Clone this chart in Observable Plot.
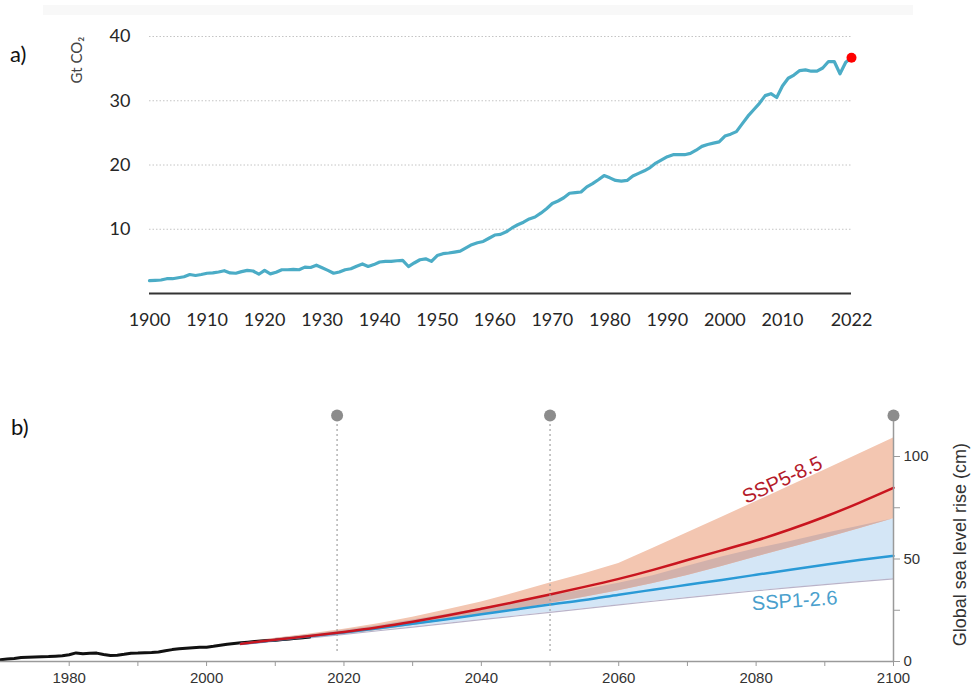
<!DOCTYPE html>
<html><head><meta charset="utf-8">
<script src="https://cdn.jsdelivr.net/npm/d3@7"></script>
<script src="https://cdn.jsdelivr.net/npm/@observablehq/plot@0.6"></script>
<style>
html,body{margin:0;padding:0;background:#fff;}
#wrap{position:relative;width:971px;height:690px;overflow:hidden;}
.abs{position:absolute;}
.panel{font-family:Lato, "Open Sans", sans-serif;font-size:22px;color:#111;}
</style></head><body>
<div id="wrap">
  <div class="abs" style="left:43px;top:5px;width:870px;height:10px;background:#f8f8f8"></div>
  <div class="abs" id="pa" style="left:0;top:0"></div>
  <div class="abs" id="pb" style="left:0;top:390px"></div>
  <div class="abs panel" style="left:10px;top:40px">a)</div>
  <div class="abs panel" style="left:11px;top:413px">b)</div>
  <div class="abs" id="unitA" style="left:76px;top:60px;transform:translate(-50%,-50%) rotate(-90deg);white-space:nowrap;font:15px Lato, sans-serif;color:#444"></div>
</div>
<script>
// ---------- Panel a: annual CO2 emissions (Gt CO2) ----------
const co2StartYear = 1900;
const co2Values = [
  2.0, 2.05, 2.1, 2.3, 2.3, 2.45, 2.6, 2.95, 2.8, 2.95,
  3.15, 3.2, 3.35, 3.55, 3.2, 3.15, 3.4, 3.6, 3.5, 3.0,
  3.6, 3.05, 3.3, 3.7, 3.7, 3.75, 3.7, 4.1, 4.05, 4.4,
  4.0, 3.6, 3.15, 3.35, 3.7, 3.85, 4.25, 4.6, 4.2, 4.5,
  4.9, 5.0, 5.0, 5.1, 5.15, 4.2, 4.75, 5.25, 5.4, 5.0,
  5.9, 6.2, 6.3, 6.45, 6.6, 7.1, 7.6, 7.9, 8.1, 8.6,
  9.1, 9.2, 9.6, 10.2, 10.7, 11.1, 11.6, 11.9, 12.5, 13.2,
  14.0, 14.4, 14.9, 15.6, 15.7, 15.8, 16.6, 17.1, 17.7, 18.35,
  18.0, 17.6, 17.5, 17.6, 18.3, 18.7, 19.1, 19.6, 20.3, 20.8,
  21.3, 21.6, 21.6, 21.6, 21.8, 22.3, 22.9, 23.2, 23.4, 23.6,
  24.5, 24.8, 25.2, 26.4, 27.6, 28.6, 29.6, 30.8, 31.1, 30.5,
  32.3, 33.5, 34.0, 34.7, 34.8, 34.6, 34.6, 35.1, 36.1, 36.1,
  34.2, 36.0, 36.7
];
const gridA = [10, 20, 30, 40];
const xTicksA = [1900, 1910, 1920, 1930, 1940, 1950, 1960, 1970, 1980, 1990, 2000, 2010, 2022];
const unitA = "Gt CO₂";

// ---------- Panel b: global sea level rise (cm) ----------
const obsYears = [1970,1971,1972,1973,1974,1975,1976,1977,1978,1979,1980,1981,1982,1983,1984,1985,1986,1987,1988,1989,1990,1991,1992,1993,1994,1995,1996,1997,1998,1999,2000,2001,2002,2003,2004,2005,2006,2007,2008,2009,2010,2011,2012,2013,2014,2015];
const obsValues = [0.8,1.2,1.5,1.9,2.1,2.2,2.3,2.4,2.6,2.8,3.3,4.2,3.8,4.0,4.1,3.4,2.9,3.1,3.5,4.0,4.1,4.3,4.4,4.6,5.2,5.8,6.2,6.5,6.7,6.9,7.0,7.4,7.9,8.4,8.8,9.1,9.4,9.7,10.0,10.2,10.4,10.7,11.0,11.3,11.6,11.9];

const projYears = [2005,2010,2015,2020,2025,2030,2035,2040,2045,2050,2055,2060,2065,2070,2075,2080,2085,2090,2095,2100];
const ssp585Median = [8.6,10.6,12.4,14.4,16.7,19.4,22.4,25.7,29.1,32.7,36.4,40.3,44.7,49.5,54.2,59.0,64.5,70.6,77.4,84.7];
const ssp585High   = [9.2,11.4,13.4,15.7,18.4,21.6,25.2,29.0,33.5,38.3,42.8,47.8,55.3,62.8,70.4,78.0,85.7,93.4,101.2,109.0];
const ssp585Low    = [8.0,9.9,11.6,13.3,15.3,17.6,20.0,22.6,25.4,28.3,31.3,34.5,38.0,42.0,46.3,51.0,55.5,60.0,64.8,69.6];
const ssp126Median = [8.6,10.5,12.3,14.2,16.2,18.4,20.6,23.0,25.4,27.8,30.0,32.6,35.0,37.4,39.8,42.3,44.8,47.2,49.5,51.5];
const ssp126High   = [9.0,11.2,13.1,15.2,17.6,20.2,23.0,26.0,29.0,32.0,35.0,38.2,41.8,46.5,51.0,55.0,58.5,62.5,66.0,69.6];
const ssp126Low    = [8.2,9.9,11.5,13.2,15.0,16.8,18.6,20.4,22.2,24.0,25.8,27.6,29.4,31.2,32.9,34.5,36.0,37.5,39.0,40.3];

const markerYears = [2019, 2050, 2100];
const dottedYears = [2019, 2050];
const xTicksB = [1980, 2000, 2020, 2040, 2060, 2080, 2100];
const xMinorB = [1980, 1990, 2000, 2010, 2020, 2030, 2040, 2050, 2060, 2070, 2080, 2090, 2100];
const yTicksB = [0, 25, 50, 75, 100];
const yLabelsB = [0, 50, 100];
const yTitleB = "Global sea level rise (cm)";
const label585 = "SSP5-8.5";
const label126 = "SSP1-2.6";

// ---------- build tables ----------
const co2 = co2Values.map((v, i) => ({year: co2StartYear + i, value: v}));
const obs = obsYears.map((y, i) => ({year: y, value: obsValues[i]}));
const proj = projYears.map((y, i) => ({
  year: y,
  redMid: ssp585Median[i], redHi: ssp585High[i], redLo: ssp585Low[i],
  blueMid: ssp126Median[i], blueHi: ssp126High[i], blueLo: ssp126Low[i]
}));

document.getElementById("unitA").textContent = unitA;

const plotA = Plot.plot({
  width: 971, height: 330,
  marginLeft: 149, marginRight: 120, marginTop: 36, marginBottom: 37,
  style: {fontFamily: "Lato, 'Open Sans', sans-serif", color: "#262626", background: "transparent", overflow: "visible"},
  x: {domain: [1900, 2022]},
  y: {domain: [0, 40]},
  marks: [
    Plot.ruleY(gridA, {stroke: "#c4c4c4", strokeDasharray: "1.5,2", strokeWidth: 1}),
    Plot.axisY({ticks: gridA, tickSize: 0, tickPadding: 19, fontSize: 18, label: null}),
    Plot.axisX({ticks: xTicksA, tickSize: 0, tickPadding: 20, fontSize: 18, tickFormat: d => String(d), label: null}),
    Plot.ruleY([0], {stroke: "#333", strokeWidth: 2}),
    Plot.line(co2, {x: "year", y: "value", stroke: "#4bacc6", strokeWidth: 3.2, strokeLinejoin: "round"}),
    Plot.dot(co2.slice(-1), {x: "year", y: "value", r: 5, fill: "#ff0000"})
  ]
});
document.getElementById("pa").appendChild(plotA);

const plotB = Plot.plot({
  width: 971, height: 300,
  marginLeft: 0, marginRight: 78, marginTop: 25, marginBottom: 29,
  style: {fontFamily: "'Liberation Sans', Arial, sans-serif", color: "#333", background: "transparent", overflow: "visible"},
  x: {domain: [1970, 2100]},
  y: {domain: [0, 120]},
  marks: [
    Plot.areaY(proj, {x: "year", y1: "blueLo", y2: "blueHi", fill: "#d4e6f6"}),
    Plot.areaY(proj, {x: "year", y1: "redLo", y2: "redHi", fill: "#f3c6b1"}),
    Plot.areaY(proj, {x: "year", y1: "redLo", y2: d => Math.max(d.redLo, d.blueHi), fill: "#d2b1ab"}),
    Plot.line(proj, {x: "year", y: "blueLo", stroke: "#b9b3c9", strokeWidth: 1.2}),
    Plot.line(obs, {x: "year", y: "value", stroke: "#111", strokeWidth: 3}),
    Plot.line(proj, {x: "year", y: "blueMid", stroke: "#2a9ad6", strokeWidth: 2.5, curve: "natural"}),
    Plot.line(proj, {x: "year", y: "redMid", stroke: "#c9151f", strokeWidth: 2.5, curve: "natural"}),
    Plot.ruleX(dottedYears, {y1: 5, y2: 116, stroke: "#9a9a9a", strokeDasharray: "1.5,3.5", strokeWidth: 1.5}),
    Plot.ruleY([0], {stroke: "#9a9a9a", strokeWidth: 1.5}),
    Plot.ruleX([2100], {y1: 0, y2: 117, stroke: "#9a9a9a", strokeWidth: 1.5}),
    Plot.dot(markerYears, {x: d => d, y: 120, r: 6, fill: "#8c8c8c"}),
    Plot.axisX({ticks: xMinorB, tickSize: 5, tickFormat: () => "", stroke: "#9a9a9a", label: null}),
    Plot.axisX({ticks: xTicksB, tickSize: 0, tickPadding: 11, fontSize: 15, tickFormat: d => String(d), label: null}),
    Plot.axisY({anchor: "right", ticks: yTicksB, tickSize: 6, tickPadding: 4, fontSize: 15, stroke: "#9a9a9a",
      tickFormat: d => yLabelsB.includes(d) ? String(d) : "", label: null}),
    Plot.text([yTitleB], {x: 2100, y: 57, dx: 67, rotate: -90, fontSize: 18, fill: "#333"}),
    Plot.text([label585], {x: 2083.8, y: 88.5, rotate: -25, fontSize: 20, fill: "#b41a2a"}),
    Plot.text([label126], {x: 2085.6, y: 29.6, rotate: -4, fontSize: 20, fill: "#4a9fcd"})
  ]
});
document.getElementById("pb").appendChild(plotB);
</script>
</body></html>
